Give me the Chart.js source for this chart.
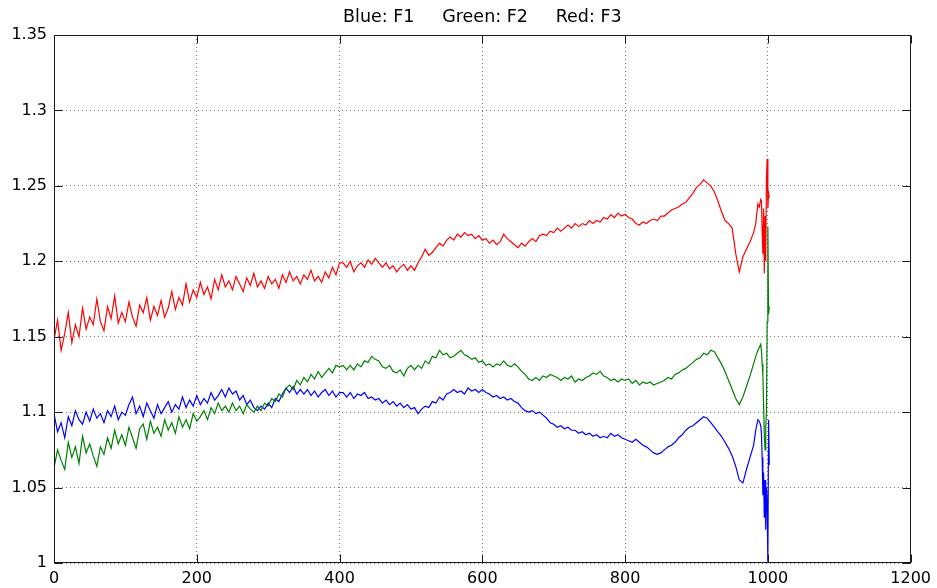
<!DOCTYPE html>
<html>
<head>
<meta charset="utf-8">
<script src="https://cdn.jsdelivr.net/npm/chart.js@4"></script>
<style>
  html, body { margin: 0; padding: 0; background: #fff; }
  #wrap { width: 937px; height: 588px; }
</style>
</head>
<body>
<div id="wrap"><canvas id="chart"></canvas></div>
<script>
// sample positions (x) shared by the three curves
const xValues = [
  0, 5, 10, 15, 20, 25, 30, 35, 40, 45,
  50, 55, 60, 65, 70, 75, 80, 85, 90, 95,
  100, 105, 110, 115, 120, 125, 130, 135, 140, 145,
  150, 155, 160, 165, 170, 175, 180, 185, 190, 195,
  200, 205, 210, 215, 220, 225, 230, 235, 240, 245,
  250, 255, 260, 265, 270, 275, 280, 285, 290, 295,
  300, 305, 310, 315, 320, 325, 330, 335, 340, 345,
  350, 355, 360, 365, 370, 375, 380, 385, 390, 395,
  400,
  405, 410, 415, 420, 425, 430, 435, 440, 445, 450,
  455, 460, 465, 470, 475, 480, 485, 490, 495, 500,
  505, 510, 515, 520, 525, 530, 535, 540, 545, 550,
  555, 560, 565, 570, 575, 580, 585, 590, 595, 600,
  605, 610, 615, 620, 625, 630, 635, 640, 645, 650,
  655, 660, 665, 670, 675, 680, 685, 690, 695, 700,
  705, 710, 715, 720, 725, 730, 735, 740, 745, 750,
  755, 760, 765, 770, 775, 780, 785, 790, 795, 800,
  805, 810, 815, 820, 825, 830, 835, 840, 845, 850,
  855, 860, 865, 870, 875, 880, 885, 890, 895, 900,
  905, 910, 915, 920, 925, 930, 935, 940, 945, 950,
  955, 960, 965, 970, 975, 980,
  983, 986, 988, 990, 991, 992, 993, 994, 995, 996, 997, 998, 999, 1000, 1001, 1002
];

// F1 (blue)
const f1 = [
  1.099, 1.087, 1.093, 1.083, 1.097, 1.091, 1.101, 1.095, 1.092, 1.100,
  1.094, 1.102, 1.096, 1.099, 1.093, 1.101, 1.097, 1.104, 1.095, 1.100,
  1.098, 1.105, 1.110, 1.099, 1.104, 1.097, 1.106, 1.101, 1.096, 1.105,
  1.099, 1.103, 1.107, 1.100, 1.105, 1.102, 1.110, 1.103, 1.108, 1.104,
  1.111, 1.105, 1.109, 1.106, 1.113, 1.108, 1.111, 1.115, 1.110, 1.116,
  1.112, 1.114, 1.108, 1.111, 1.105, 1.108, 1.103, 1.101, 1.104, 1.102,
  1.106, 1.103, 1.109, 1.107, 1.112, 1.116, 1.113, 1.117, 1.112, 1.115,
  1.112, 1.115, 1.111, 1.114, 1.110, 1.113, 1.115, 1.111, 1.114, 1.110,
  1.113,
  1.113, 1.110, 1.113, 1.109, 1.112, 1.111, 1.113, 1.109, 1.110, 1.108,
  1.109, 1.106, 1.108, 1.105, 1.107, 1.104, 1.106, 1.103, 1.105, 1.102,
  1.103, 1.099, 1.102, 1.104, 1.103, 1.107, 1.106, 1.110, 1.108, 1.112,
  1.113, 1.115, 1.113, 1.114, 1.112, 1.116, 1.114, 1.115, 1.113, 1.115,
  1.113, 1.112, 1.110, 1.111, 1.109, 1.110, 1.108, 1.109, 1.107, 1.106,
  1.103, 1.101, 1.100, 1.101, 1.099, 1.100, 1.098, 1.096, 1.093, 1.092,
  1.090, 1.091, 1.089, 1.090, 1.088, 1.088, 1.086, 1.087, 1.085, 1.086,
  1.084, 1.085, 1.083, 1.084, 1.083, 1.086, 1.084, 1.085, 1.083, 1.082,
  1.081, 1.080, 1.082, 1.080, 1.078, 1.077, 1.075, 1.073, 1.072, 1.073,
  1.075, 1.077, 1.078, 1.080, 1.083, 1.085, 1.088, 1.090, 1.091, 1.093,
  1.095, 1.097, 1.096, 1.093, 1.090, 1.087, 1.084, 1.080, 1.076, 1.071,
  1.064, 1.055, 1.053, 1.062, 1.070, 1.078,
  1.088, 1.095, 1.094, 1.091, 1.086, 1.070, 1.045, 1.060, 1.030, 1.055, 1.022, 1.050, 1.040, 1.000, 1.095, 1.065
];

// F2 (green)
const f2 = [
  1.063, 1.075, 1.068, 1.062, 1.080, 1.070, 1.077, 1.066, 1.084, 1.073,
  1.079, 1.071, 1.064, 1.077, 1.072, 1.083, 1.076, 1.088, 1.079, 1.085,
  1.078, 1.090, 1.083, 1.076, 1.089, 1.092, 1.082, 1.094, 1.086, 1.090,
  1.084, 1.095, 1.088, 1.093, 1.086, 1.097, 1.090, 1.095, 1.089, 1.099,
  1.094, 1.097, 1.101, 1.095, 1.103, 1.099, 1.106, 1.101, 1.104, 1.100,
  1.106, 1.101, 1.104, 1.099, 1.105, 1.102, 1.100, 1.104, 1.101, 1.106,
  1.104, 1.109, 1.107, 1.112, 1.110, 1.116, 1.118, 1.115, 1.121, 1.118,
  1.123, 1.120, 1.125, 1.122, 1.127, 1.123, 1.126, 1.129, 1.126, 1.131,
  1.130,
  1.131, 1.128, 1.131, 1.128, 1.132, 1.130, 1.134, 1.133, 1.137, 1.135,
  1.134, 1.130, 1.129, 1.131, 1.127, 1.126, 1.128, 1.124, 1.129, 1.131,
  1.128, 1.131, 1.129, 1.134, 1.132, 1.137, 1.136, 1.141, 1.138, 1.139,
  1.136, 1.137, 1.139, 1.141, 1.138, 1.137, 1.135, 1.136, 1.133, 1.134,
  1.131, 1.132, 1.130, 1.132, 1.131, 1.134, 1.131, 1.130, 1.132, 1.130,
  1.127, 1.125, 1.122, 1.121, 1.123, 1.121, 1.124, 1.123, 1.125, 1.124,
  1.123, 1.121, 1.123, 1.122, 1.124, 1.120, 1.122, 1.121, 1.123, 1.124,
  1.126, 1.125, 1.127, 1.124, 1.123, 1.121, 1.122, 1.120, 1.122, 1.121,
  1.122, 1.119, 1.121, 1.118, 1.120, 1.119, 1.120, 1.118, 1.119, 1.120,
  1.121, 1.123, 1.122, 1.125, 1.126, 1.128, 1.129, 1.131, 1.133, 1.135,
  1.136, 1.139, 1.138, 1.141, 1.140, 1.136, 1.132, 1.127, 1.121, 1.115,
  1.109, 1.105, 1.110, 1.117, 1.124, 1.132,
  1.137, 1.141, 1.143, 1.145, 1.141, 1.132, 1.125, 1.105, 1.085, 1.075, 1.090, 1.100, 1.160, 1.223, 1.165, 1.170
];

// F3 (red)
const f3 = [
  1.148, 1.161, 1.141, 1.152, 1.166, 1.146, 1.158, 1.150, 1.169, 1.155,
  1.163, 1.158, 1.175, 1.160, 1.154, 1.170, 1.162, 1.177, 1.159, 1.166,
  1.160, 1.173, 1.163, 1.157, 1.171, 1.166, 1.176, 1.161, 1.170, 1.164,
  1.174, 1.163, 1.169, 1.180, 1.168, 1.176, 1.171, 1.185, 1.173, 1.181,
  1.176, 1.186, 1.178, 1.183, 1.175, 1.188, 1.181, 1.191, 1.183, 1.187,
  1.181, 1.190, 1.185, 1.180, 1.189, 1.184, 1.192, 1.183, 1.187, 1.182,
  1.190, 1.185, 1.188, 1.182, 1.191, 1.186, 1.193, 1.187, 1.190, 1.185,
  1.191, 1.188, 1.194, 1.187, 1.190, 1.186, 1.193, 1.189, 1.196, 1.191,
  1.199,
  1.199, 1.196, 1.200, 1.193, 1.197, 1.199, 1.196, 1.201, 1.198, 1.202,
  1.199, 1.196, 1.199, 1.195, 1.197, 1.193, 1.196, 1.198, 1.194, 1.197,
  1.194, 1.199, 1.203, 1.208, 1.204, 1.206, 1.209, 1.212, 1.210, 1.214,
  1.216, 1.214, 1.218, 1.216, 1.219, 1.217, 1.218, 1.215, 1.217, 1.214,
  1.215, 1.212, 1.214, 1.211, 1.213, 1.218, 1.215, 1.213, 1.211, 1.209,
  1.212, 1.210, 1.213, 1.215, 1.213, 1.217, 1.218, 1.217, 1.220, 1.219,
  1.222, 1.220, 1.222, 1.224, 1.222, 1.225, 1.223, 1.225, 1.224, 1.227,
  1.225, 1.227, 1.226, 1.229, 1.228, 1.231, 1.229, 1.232, 1.230, 1.231,
  1.229, 1.228, 1.225, 1.224, 1.226, 1.225, 1.227, 1.228, 1.227, 1.230,
  1.230, 1.232, 1.234, 1.235, 1.236, 1.238, 1.239, 1.242, 1.245, 1.249,
  1.251, 1.254, 1.252, 1.250, 1.246, 1.240, 1.233, 1.227, 1.225, 1.222,
  1.205, 1.193, 1.203, 1.208, 1.213, 1.219,
  1.225, 1.238, 1.236, 1.241, 1.240, 1.220, 1.205, 1.235, 1.192, 1.230, 1.200, 1.254, 1.268, 1.235, 1.245, 1.242
];

const titleText = 'Blue: F1     Green: F2     Red: F3';
const xMin = 0, xMax = 1200, xStep = 200;
const yMin = 1, yMax = 1.35, yStep = 0.05;

function points(ys) {
  return xValues.map((x, i) => ({ x: x, y: ys[i] }));
}

// box round the plot with MATLAB-style inward ticks
const frame = {
  id: 'frame',
  afterDraw(chart) {
    const { ctx, chartArea: a, scales } = chart;
    const L = Math.round(a.left) + 0.5, R = Math.round(a.right) - 0.5;
    const T = Math.round(a.top) + 0.5, B = Math.round(a.bottom) - 0.5;
    ctx.save();
    ctx.strokeStyle = '#1a1a1a';
    ctx.lineWidth = 1;
    ctx.setLineDash([]);
    ctx.strokeRect(L, T, R - L, B - T);
    ctx.beginPath();
    scales.x.ticks.forEach(t => {
      const px = Math.round(scales.x.getPixelForValue(t.value)) + 0.5;
      ctx.moveTo(px, B); ctx.lineTo(px, B - 8);
      ctx.moveTo(px, T); ctx.lineTo(px, T + 8);
    });
    scales.y.ticks.forEach(t => {
      const py = Math.round(scales.y.getPixelForValue(t.value)) + 0.5;
      ctx.moveTo(L, py); ctx.lineTo(L + 8, py);
      ctx.moveTo(R, py); ctx.lineTo(R - 8, py);
    });
    ctx.stroke();
    ctx.restore();
  }
};

const font = 'DejaVu Sans';

new Chart(document.getElementById('chart'), {
  type: 'scatter',
  data: {
    datasets: [
      { label: 'F1', data: points(f1), borderColor: '#0000ff', order: 3 },
      { label: 'F2', data: points(f2), borderColor: '#008000', order: 2 },
      { label: 'F3', data: points(f3), borderColor: '#ff0000', order: 1 }
    ].map(d => Object.assign(d, { showLine: true, pointRadius: 0, borderWidth: 1.2, tension: 0, fill: false }))
  },
  options: {
    responsive: true,
    maintainAspectRatio: false,
    animation: false,
    layout: { padding: { left: 0, right: 26, top: 0, bottom: 0 } },
    plugins: {
      legend: { display: false },
      tooltip: { enabled: false },
      title: {
        display: true,
        fullSize: false,
        text: titleText,
        color: '#000',
        font: { family: font, size: 17.5, weight: 'normal' },
        padding: { top: 7, bottom: 7 }
      }
    },
    scales: {
      x: {
        type: 'linear',
        min: xMin, max: xMax,
        afterFit: s => { s.height = 25; },
        ticks: {
          stepSize: xStep, color: '#000', padding: 6, font: { family: font, size: 16 },
          callback: v => String(v)
        },
        grid: { color: '#777', drawTicks: false },
        border: { display: false, dash: [1, 3] }
      },
      y: {
        type: 'linear',
        min: yMin, max: yMax,
        afterFit: s => { s.width = 54; },
        ticks: {
          stepSize: yStep, color: '#000', padding: 7, font: { family: font, size: 16 },
          callback: v => String(Number(v.toFixed(2)))
        },
        grid: { color: '#777', drawTicks: false },
        border: { display: false, dash: [1, 3] }
      }
    }
  },
  plugins: [frame]
});
</script>
</body>
</html>
